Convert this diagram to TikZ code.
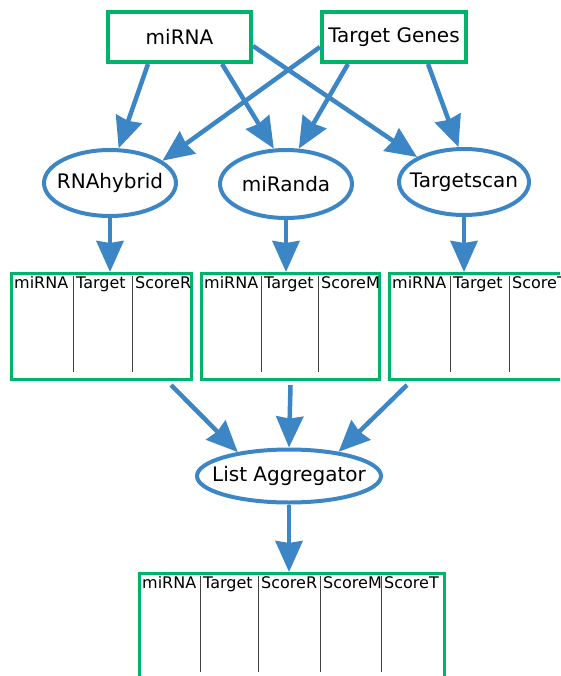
\documentclass[tikz,border=0pt]{standalone}
\usepackage{fontspec}
\setmainfont{DejaVu Sans}
\usetikzlibrary{arrows.meta,shapes.geometric,calc}
\definecolor{arblue}{HTML}{3C86C5}
\definecolor{bxgreen}{HTML}{00B36B}
\tikzset{
  inbox/.style={draw=bxgreen,line width=4pt,minimum width=143pt,minimum height=50pt,inner sep=0pt,font=\fontsize{20}{24}\selectfont},
  tool/.style={ellipse,draw=arblue,line width=4pt,inner sep=0pt,font=\fontsize{20}{24}\selectfont},
  tbl/.style={draw=bxgreen,line width=3pt,inner sep=0pt,anchor=north west},
  hd/.style={anchor=base west,inner sep=0pt,font=\fontsize{16}{19}\selectfont},
  div/.style={black!75,line width=1pt},
  arr/.style={draw=arblue,line width=4.5pt,-{Stealth[inset=2pt,length=31pt,width=27pt]}},
}
\begin{document}
\begin{tikzpicture}[x=1pt,y=-1pt]
\clip (0,0) rectangle (560,676);
\useasboundingbox (0,0) rectangle (560,676);
% inputs
\node[inbox] (mirna) at (179.5,37) {miRNA};
\node[inbox,minimum width=144pt] (targ) at (394,37) {Target Genes};
% tools
\node[tool,minimum width=132pt,minimum height=66pt] (rnah) at (110,183) {\makebox[0pt]{RNAhybrid}};
\node[tool,minimum width=132pt,minimum height=68pt] (miranda) at (286,184) {\makebox[0pt]{miRanda}};
\node[tool,minimum width=130pt,minimum height=66pt] (tscan) at (464,182) {\makebox[0pt]{Targetscan}};
% tables
\node[tbl,minimum width=180pt,minimum height=106pt] (t1) at (10,272) {};
\node[tbl,minimum width=178pt,minimum height=106pt] (t2) at (200,272) {};
\node[tbl,minimum width=178pt,minimum height=106pt] (t3) at (388,272) {};
\draw[div] (73,276) -- (73,372) (132,276) -- (132,372);
\draw[div] (261,276) -- (261,372) (318,276) -- (318,372);
\draw[div] (450,276) -- (450,372) (509,276) -- (509,372);
\node[hd] (h11) at (14,288) {miRNA};
\node[hd] (h12) at (76,288) {Target};
\node[hd] (h13) at (135,288) {ScoreR};
\node[hd] (h21) at (204,288) {miRNA};
\node[hd] (h22) at (264,288) {Target};
\node[hd] (h23) at (321,288) {ScoreM};
\node[hd] (h31) at (392,288) {miRNA};
\node[hd] (h32) at (453,288) {Target};
\node[hd] (h33) at (512,288) {ScoreT};
% aggregator
\node[tool,minimum width=184pt,minimum height=53pt] (agg) at (289,476) {\makebox[0pt]{List Aggregator}};
% final table
\node[tbl,minimum width=305pt,minimum height=112pt] (fin) at (138,572) {};
\draw[div] (200,576) -- (200,672) (258,576) -- (258,672) (320,576) -- (320,672) (381,576) -- (381,672);
\node[hd] (f1) at (142,588) {miRNA};
\node[hd] (f2) at (203,588) {Target};
\node[hd] (f3) at (261,588) {ScoreR};
\node[hd] (f4) at (323,588) {ScoreM};
\node[hd] (f5) at (384,588) {ScoreT};
% arrows
\draw[arr] ([xshift=-31.5pt]mirna.south) -- (rnah.76);
\draw[arr] ([xshift=42.5pt]mirna.south) -- (miranda.109);
\draw[arr] ([yshift=-9pt]mirna.east) -- (tscan.152);
\draw[arr] ([yshift=-10pt]targ.west) -- (rnah.23);
\draw[arr] ([xshift=-46pt]targ.south) -- (miranda.70);
\draw[arr] ([xshift=34pt]targ.south) -- (tscan.99);
\draw[arr] (rnah.south) -- (rnah.south |- t1.north);
\draw[arr] (miranda.south) -- (miranda.south |- t2.north);
\draw[arr] (tscan.south) -- (tscan.south |- t3.north);
\draw[arr] ([xshift=-22pt,yshift=-4pt]t1.south east) -- (agg.155);
\draw[arr] ([yshift=-4pt]t2.south) -- (agg.north);
\draw[arr] ([xshift=19pt,yshift=-4pt]t3.south west) -- (agg.26);
\draw[arr] (agg.south) -- (fin.north -| agg.south);
\end{tikzpicture}
\end{document}
